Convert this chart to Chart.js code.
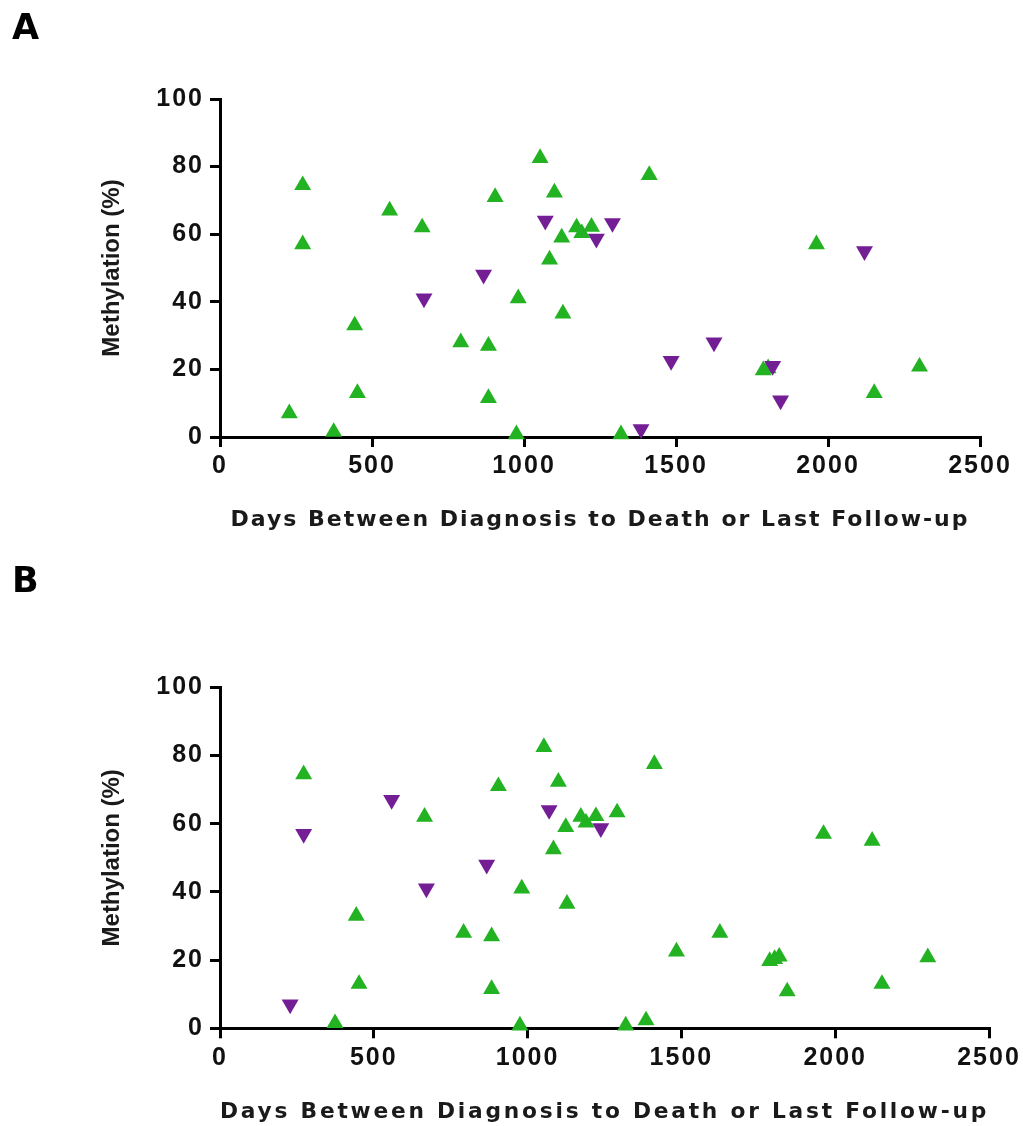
<!DOCTYPE html>
<html>
<head>
<meta charset="utf-8">
<script src="https://cdn.jsdelivr.net/npm/chart.js@4.4.1/dist/chart.umd.min.js"></script>
<style>
  html, body { margin: 0; padding: 0; background: #fff; }
  body { width: 1023px; height: 1126px; position: relative; overflow: hidden; }
  canvas { position: absolute; left: 0; }
  #panelA { top: 0; }
  #panelB { top: 553px; }
</style>
</head>
<body>
<canvas id="panelA" width="1023" height="545"></canvas>
<canvas id="panelB" width="1023" height="573"></canvas>
<script>
// số ngày từ chẩn đoán đến tử vong / lần theo dõi cuối
const days = [228, 272, 272, 374, 443, 452, 558, 665, 671, 792,
              867, 883, 883, 905, 975, 981, 1053, 1070, 1084, 1100,
              1124, 1128, 1173, 1190, 1222, 1238, 1291, 1319, 1385, 1412,
              1484, 1625, 1787, 1803, 1818, 1844, 1962, 2120, 2152, 2301];
// % methyl hoá
const methylation = [7, 74.5, 57, 1.5, 33, 13, 67, 62, 41, 28,
                     48, 27, 11.5, 71, 0.8, 41, 82.5, 64, 52.5, 72.3,
                     59, 36.5, 62, 60.3, 62.2, 58.7, 63.3, 0.8, 2.3, 77.5,
                     22.5, 28, 19.7, 20.3, 21, 10.8, 57, 55, 13, 20.8];
// nhóm của từng điểm: 'up' = tam giác xanh, 'down' = tam giác tím ngược
const groupA = ['up', 'up', 'up', 'up', 'up', 'up', 'up', 'up', 'down', 'up',
                'down', 'up', 'up', 'up', 'up', 'up', 'up', 'down', 'up', 'up',
                'up', 'up', 'up', 'up', 'up', 'down', 'down', 'up', 'down', 'up',
                'down', 'down', 'up', 'up', 'down', 'down', 'up', 'down', 'up', 'up'];
const groupB = ['down', 'up', 'down', 'up', 'up', 'up', 'down', 'up', 'down', 'up',
                'down', 'up', 'up', 'up', 'up', 'up', 'up', 'down', 'up', 'up',
                'up', 'up', 'up', 'up', 'up', 'down', 'up', 'up', 'up', 'up',
                'up', 'up', 'up', 'up', 'up', 'up', 'up', 'up', 'up', 'up'];

const xTicks = [0, 500, 1000, 1500, 2000, 2500];
const yTicks = [0, 20, 40, 60, 80, 100];
const xTitle = 'Days Between Diagnosis to Death or Last Follow-up';
const yTitle = 'Methylation (%)';

const GREEN = 'rgb(34, 178, 34)';
const PURPLE = 'rgb(116, 30, 150)';

// Chart.js không có letter-spacing cho chữ -> vá hàm vẽ của scale
const spacingPlugin = {
    id: 'spacing',
    beforeDraw(chart, args, opts) {
        Object.values(chart.scales).forEach(scale => {
            if (scale._spaced) return;
            scale._spaced = true;
            const drawTitle = scale.drawTitle;
            const drawLabels = scale.drawLabels;
            scale.drawTitle = function () {
                const prev = this.ctx.letterSpacing;
                this.ctx.letterSpacing = this.axis === 'x' ? opts.xTitle : '0px';
                drawTitle.call(this);
                this.ctx.letterSpacing = prev;
            };
            scale.drawLabels = function (area) {
                const prev = this.ctx.letterSpacing;
                this.ctx.letterSpacing = opts.ticks;
                drawLabels.call(this, area);
                this.ctx.letterSpacing = prev;
            };
        });
    }
};

function points(groups, key) {
    const out = [];
    days.forEach((d, i) => {
        if (groups[i] === key) out.push({ x: d, y: methylation[i] });
    });
    return out;
}

function renderPanel(cfg) {
    const ctx = document.getElementById(cfg.canvasId).getContext('2d');
    const tickFont = { family: "'Liberation Sans', Arial, sans-serif", size: 25, weight: 'bold' };
    return new Chart(ctx, {
        type: 'scatter',
        data: {
            datasets: [
                {
                    label: 'down',
                    data: points(cfg.groups, 'down'),
                    pointStyle: 'triangle',
                    rotation: 180,
                    pointRadius: 9.8,
                    pointBorderWidth: 0,
                    backgroundColor: PURPLE,
                    borderColor: PURPLE,
                    clip: false
                },
                {
                    label: 'up',
                    data: points(cfg.groups, 'up'),
                    pointStyle: 'triangle',
                    pointRadius: 9.8,
                    pointBorderWidth: 0,
                    backgroundColor: GREEN,
                    borderColor: GREEN,
                    clip: false
                }
            ]
        },
        options: {
            responsive: false,
            animation: false,
            events: [],
            layout: {
                autoPadding: false,
                padding: { left: 12, top: 0, right: cfg.padRight, bottom: 0 }
            },
            scales: {
                x: {
                    type: 'linear',
                    min: 0,
                    max: 2500,
                    afterBuildTicks: s => { s.ticks = xTicks.map(v => ({ value: v })); },
                    afterFit: s => { s.height = cfg.xHeight; },
                    border: { display: true, color: '#000', width: 3 },
                    grid: { drawOnChartArea: false, drawTicks: true, tickLength: 10, color: '#000', lineWidth: 3 },
                    ticks: { color: '#111', font: tickFont, padding: cfg.xTickPad, maxRotation: 0, callback: v => String(v) },
                    title: {
                        display: true,
                        text: xTitle,
                        color: '#1a1a1a',
                        font: { family: "'DejaVu Sans', sans-serif", size: 22, weight: 'bold' },
                        padding: { top: 0, bottom: cfg.xTitlePad }
                    }
                },
                y: {
                    type: 'linear',
                    min: 0,
                    max: 100,
                    afterBuildTicks: s => { s.ticks = yTicks.map(v => ({ value: v })); },
                    afterFit: s => { s.width = 208; },
                    border: { display: true, color: '#000', width: 3 },
                    grid: { drawOnChartArea: false, drawTicks: true, tickLength: 10, color: '#000', lineWidth: 3 },
                    ticks: { color: '#111', font: tickFont, padding: 6, callback: v => String(v) },
                    title: {
                        display: true,
                        text: yTitle,
                        color: '#1a1a1a',
                        font: { family: "'Liberation Sans', Arial, sans-serif", size: 24, weight: 'bold' },
                        padding: { top: 86, bottom: 0 }
                    }
                }
            },
            plugins: {
                legend: { display: false },
                tooltip: { enabled: false },
                title: {
                    display: true,
                    text: cfg.letter,
                    align: 'start',
                    color: '#000',
                    font: { family: "'DejaVu Sans', sans-serif", size: 35, weight: 'bold' },
                    padding: { top: cfg.letterTop, bottom: cfg.letterBottom }
                },
                spacing: { ticks: '2px', xTitle: cfg.titleSpacing }
            }
        },
        plugins: [spacingPlugin]
    });
}

renderPanel({
    canvasId: 'panelA', letter: 'A', groups: groupA,
    padRight: 43, xHeight: 108, xTickPad: 4, xTitlePad: 12,
    letterTop: 8.5, letterBottom: 48.5, titleSpacing: '2px'
});
renderPanel({
    canvasId: 'panelB', letter: 'B', groups: groupB,
    padRight: 34, xHeight: 97.7, xTickPad: 5.3, xTitlePad: 1,
    letterTop: 9, letterBottom: 83.3, titleSpacing: '2.8px'
});
</script>
</body>
</html>
